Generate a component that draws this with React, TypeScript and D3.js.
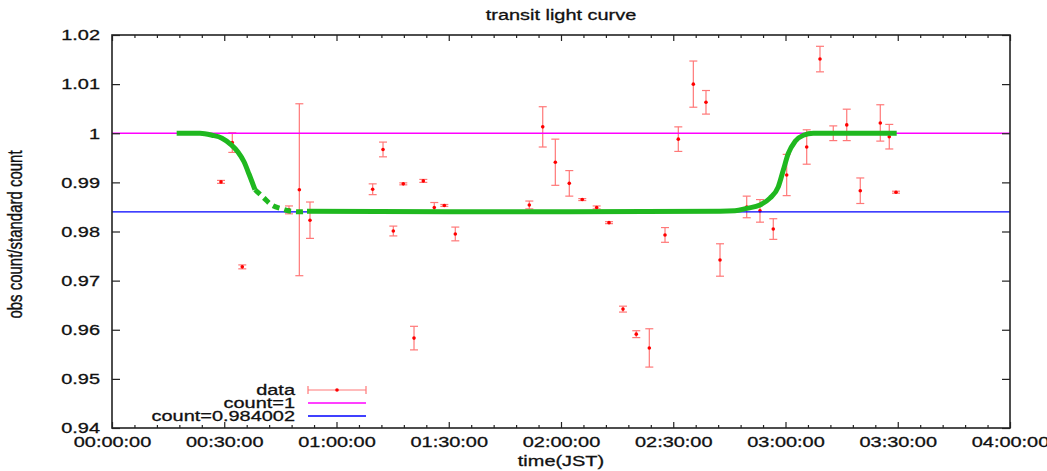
import React, { useRef, useEffect } from "react"
import * as d3 from "d3"

// observed points (time JST, relative count, error)
const obsTimes = [
  "00:29:08", "00:32:09", "00:34:49", "00:47:18", "00:50:04", "00:52:55",
  "01:09:40", "01:12:26", "01:15:11", "01:17:51", "01:20:43", "01:23:12",
  "01:26:08", "01:28:49", "01:31:45", "01:51:32", "01:55:07", "01:58:29",
  "02:02:13", "02:05:41", "02:09:32", "02:12:50", "02:16:34", "02:20:07",
  "02:23:36", "02:27:48", "02:31:21", "02:35:22", "02:38:45", "02:42:30",
  "02:49:38", "02:53:11", "02:56:44", "03:00:19", "03:05:40", "03:09:13",
  "03:12:46", "03:16:22", "03:19:59", "03:25:20", "03:27:44", "03:29:32"
]
const obsCounts = [
  0.9901, 0.9981, 0.9728, 0.9844, 0.9885, 0.9823,
  0.9886, 0.9967, 0.9801, 0.9897, 0.9583, 0.9903,
  0.9849, 0.9853, 0.9795, 0.9854, 1.0013, 0.9941,
  0.9898, 0.9865, 0.9849, 0.9818, 0.9642, 0.9591,
  0.9563, 0.9793, 0.9988, 1.0100, 1.0063, 0.9742,
  0.9850, 0.9842, 0.9805, 0.9915, 0.9972, 1.0151,
  1.0000, 1.0017, 0.9883, 1.0021, 0.9993, 0.9880
]
const obsErrors = [
  0.0003, 0.0020, 0.0004, 0.0008, 0.0175, 0.0037,
  0.0011, 0.0015, 0.0010, 0.0002, 0.0024, 0.0003,
  0.0010, 0.0002, 0.0014, 0.0008, 0.0041, 0.0047,
  0.0026, 0.0002, 0.0003, 0.0002, 0.0006, 0.0007,
  0.0039, 0.0015, 0.0025, 0.0047, 0.0024, 0.0033,
  0.0022, 0.0023, 0.0021, 0.0042, 0.0035, 0.0026,
  0.0015, 0.0032, 0.0026, 0.0037, 0.0025, 0.0002
]

// transit model curve
const modelTimes = [
  "00:17:17", "00:23:31", "00:26:44", "00:29:24", "00:31:48", "00:33:40",
  "00:35:17", "00:36:37", "00:38:13",
  "00:40:22", "00:42:29", "00:45:26", "00:47:50", "00:50:14", "00:52:07",
  "01:30:00", "02:00:00", "02:42:30", "02:46:30", "02:49:38", "02:53:11",
  "02:55:51", "02:58:04", "02:59:25", "03:00:45", "03:02:32", "03:04:46",
  "03:07:26", "03:29:43"
]
const modelCounts = [
  1.0, 1.0, 0.9996, 0.9990, 0.9977, 0.9962,
  0.9942, 0.9917, 0.9885,
  0.9870, 0.9855, 0.9846, 0.9841, 0.9840, 0.9841,
  0.9840, 0.9840, 0.9841, 0.9842, 0.9847, 0.9854,
  0.9868, 0.9891, 0.9925, 0.9959, 0.9983, 0.9996,
  1.0, 1.0
]
const dashedStart = 8   // index where the dashed part of the ingress begins
const dashedEnd = 14

const refLevels = [1, 0.984002]
const refColors = ["#ff00ff", "#0000ff"]
const legendLabels = ["data", "count=1", "count=0.984002"]
const xTickLabels = ["00:00:00", "00:30:00", "01:00:00", "01:30:00", "02:00:00", "02:30:00", "03:00:00", "03:30:00", "04:00:00"]
const yTicks = [0.94, 0.95, 0.96, 0.97, 0.98, 0.99, 1.0, 1.01, 1.02]

const toMin = (s: string) => {
  const [h, m, sec] = s.split(":").map(Number)
  return h * 60 + m + sec / 60
}

const W = 1047, H = 471
const M = { left: 112, right: 1010, top: 35, bottom: 428 }
const FONT = "'Liberation Sans', Arial, Helvetica, sans-serif"
const SX = 1.33 // the reference text is stretched sideways

const App = () => {
  const ref = useRef<SVGSVGElement>(null)

  useEffect(() => {
    const svg = d3.select(ref.current)
    svg.selectAll("*").remove()

    const x = d3.scaleLinear().domain([toMin(xTickLabels[0]), toMin(xTickLabels[xTickLabels.length - 1])]).range([M.left, M.right])
    const y = d3.scaleLinear().domain([0.94, 1.02]).range([M.bottom, M.top])

    const obs = obsTimes.map((t, i) => ({ t: toMin(t), v: obsCounts[i], e: obsErrors[i] }))
    const model = modelTimes.map((t, i) => ({ t: toMin(t), v: modelCounts[i] }))

    // error bars
    const errColor = "#ff7878"
    const eb = svg.append("g").attr("stroke", errColor).attr("stroke-width", 1.2)
    obs.forEach(d => {
      const cx = x(d.t), y1 = y(d.v + d.e), y2 = y(d.v - d.e)
      eb.append("line").attr("x1", cx).attr("x2", cx).attr("y1", y1).attr("y2", y2)
      eb.append("line").attr("x1", cx - 4).attr("x2", cx + 4).attr("y1", y1).attr("y2", y1)
      eb.append("line").attr("x1", cx - 4).attr("x2", cx + 4).attr("y1", y2).attr("y2", y2)
    })
    svg.append("g").selectAll("circle").data(obs).enter().append("circle")
      .attr("cx", d => x(d.t)).attr("cy", d => y(d.v)).attr("r", 1.8).attr("fill", "#ff0000")

    // reference levels
    svg.append("g").selectAll("line").data(refLevels).enter().append("line")
      .attr("x1", M.left).attr("x2", M.right)
      .attr("y1", d => y(d)).attr("y2", d => y(d))
      .attr("stroke", (d, i) => refColors[i]).attr("stroke-width", 1.4)

    // model curve
    const line = d3.line<{ t: number, v: number }>().x(d => x(d.t)).y(d => y(d.v)).curve(d3.curveMonotoneX)
    const parts = [
      { pts: model.slice(0, dashedStart + 1), dash: null },
      { pts: model.slice(dashedStart, dashedEnd + 1), dash: "7,5" },
      { pts: model.slice(dashedEnd), dash: null }
    ]
    parts.forEach(p => {
      svg.append("path").attr("d", line(p.pts)).attr("fill", "none")
        .attr("stroke", "#1fb81f").attr("stroke-width", 5)
        .attr("stroke-dasharray", p.dash)
    })

    // axes with inward ticks on all sides
    const style = (g: any) => {
      g.select(".domain").remove()
      g.selectAll("line").attr("stroke", "#222").attr("stroke-width", 1.2)
      g.selectAll("text").attr("font-family", FONT).attr("font-size", 15).attr("fill", "#111")
        .attr("stroke", "#111").attr("stroke-width", 0.3)
    }
    const majors = xTickLabels.map(toMin)
    const minors = d3.range(majors[0], majors[majors.length - 1] + 0.1, 6).filter(v => v % 30 !== 0)

    svg.append("g").attr("transform", `translate(0,${M.bottom})`)
      .call(d3.axisBottom(x).tickValues(majors).tickSize(-6).tickPadding(8).tickFormat((d, i) => xTickLabels[i]))
      .call(style)
      .selectAll("text").attr("transform", `scale(${SX},1)`)
    svg.append("g").attr("transform", `translate(0,${M.bottom})`)
      .call(d3.axisBottom(x).tickValues(minors).tickSize(-3).tickFormat(() => "")).call(style)
    svg.append("g").attr("transform", `translate(0,${M.top})`)
      .call(d3.axisTop(x).tickValues(majors).tickSize(-6).tickFormat(() => "")).call(style)
    svg.append("g").attr("transform", `translate(0,${M.top})`)
      .call(d3.axisTop(x).tickValues(minors).tickSize(-3).tickFormat(() => "")).call(style)

    svg.append("g").attr("transform", `translate(${M.left},0)`)
      .call(d3.axisLeft(y).tickValues(yTicks).tickSize(-8).tickPadding(9).tickFormat(d => String(+(+d).toFixed(2))))
      .call(style)
      .selectAll("text").attr("transform", `scale(${SX},1)`)
    svg.append("g").attr("transform", `translate(${M.right},0)`)
      .call(d3.axisRight(y).tickValues(yTicks).tickSize(-8).tickFormat(() => "")).call(style)

    svg.append("rect").attr("x", M.left).attr("y", M.top)
      .attr("width", M.right - M.left).attr("height", M.bottom - M.top)
      .attr("fill", "none").attr("stroke", "#222").attr("stroke-width", 1.6)

    // titles
    const label = (tx: number, ty: number, text: string, anchor: string, rot = 0) =>
      svg.append("text").attr("transform", `translate(${tx},${ty}) scale(${SX},1) rotate(${rot})`)
        .attr("text-anchor", anchor).attr("font-family", FONT).attr("font-size", 15).attr("fill", "#111")
        .attr("stroke", "#111").attr("stroke-width", 0.3)
        .text(text)
    label((M.left + M.right) / 2, 20, "transit light curve", "middle")
    label((M.left + M.right) / 2, 466, "time(JST)", "middle")
    label(22, (M.top + M.bottom) / 2 + 3, "obs count/standard count", "middle", -90)

    // legend
    const rowY = [390, 403, 416]
    const lx1 = 308, lx2 = 366
    legendLabels.forEach((t, i) => label(295, rowY[i] + 5, t, "end"))
    const lg = svg.append("g").attr("stroke", errColor).attr("stroke-width", 1.2)
    lg.append("line").attr("x1", lx1).attr("x2", lx2).attr("y1", rowY[0]).attr("y2", rowY[0])
    lg.append("line").attr("x1", lx1).attr("x2", lx1).attr("y1", rowY[0] - 4).attr("y2", rowY[0] + 4)
    lg.append("line").attr("x1", lx2).attr("x2", lx2).attr("y1", rowY[0] - 4).attr("y2", rowY[0] + 4)
    svg.append("circle").attr("cx", (lx1 + lx2) / 2).attr("cy", rowY[0]).attr("r", 1.8).attr("fill", "#ff0000")
    refColors.forEach((c, i) => {
      svg.append("line").attr("x1", lx1).attr("x2", lx2).attr("y1", rowY[i + 1]).attr("y2", rowY[i + 1])
        .attr("stroke", c).attr("stroke-width", 1.4)
    })
  }, [])

  return (
    <svg ref={ref} width={W} height={H} style={{ position: "absolute", left: 0, top: 0, background: "#fff" }} />
  )
}

export default App
